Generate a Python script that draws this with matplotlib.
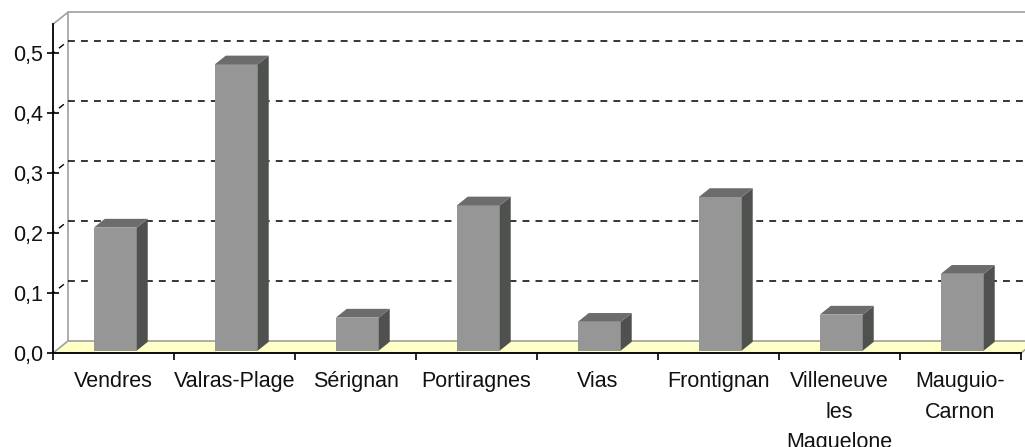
import matplotlib.pyplot as plt
from matplotlib.patches import Polygon

# data
communes = ['Vendres', 'Valras-Plage', 'Sérignan', 'Portiragnes', 'Vias',
            'Frontignan', 'Villeneuve\nles\nMaguelone', 'Mauguio-\nCarnon']
valeurs = [0.205, 0.477, 0.055, 0.242, 0.048, 0.256, 0.06, 0.128]
yticks = [0.0, 0.1, 0.2, 0.3, 0.4, 0.5]
ytick_labels = ['0,0', '0,1', '0,2', '0,3', '0,4', '0,5']

plt.rcParams['font.family'] = ['Liberation Sans', 'DejaVu Sans']
fig = plt.figure(figsize=(10.25, 4.47), dpi=100)
ax = fig.add_axes([53 / 1025, 94 / 447, 968 / 1025, 328.8 / 447])
n = len(communes)
top = 0.548
ax.set_xlim(0, n)
ax.set_ylim(0, top)

# depth of the fake 3d box, in data units
dx, dy = 0.124, 0.02
wall = '#a0a0a0'

# back wall + grid
ax.plot([dx, dx, n + dx], [dy, top + dy, top + dy], color=wall, lw=1.2, clip_on=False, zorder=1)
ax.plot([0, dx], [top, top + dy], color=wall, lw=1.2, clip_on=False, zorder=1)
for v in yticks[1:]:
    ax.plot([dx, n + dx], [v + dy, v + dy], color='black', lw=1.1,
            ls=(0, (4.5, 4)), clip_on=False, zorder=1)
    ax.plot([0, dx], [v, v + dy], color='black', lw=1.0,
            ls=(3, (4.5, 4)), clip_on=False, zorder=1)

# floor
floor = Polygon([(0, 0), (n, 0), (n + dx, dy), (dx, dy)], closed=True,
                facecolor='#ffffc8', edgecolor=wall, lw=1.2, clip_on=False, zorder=2)
ax.add_patch(floor)

# bars
w = 0.355
d0, d1 = 0.2, 0.93
ox, oy = (d1 - d0) * dx, (d1 - d0) * dy
for i, v in enumerate(valeurs):
    x0 = i + 0.49 - w / 2 + d0 * dx
    y0 = d0 * dy
    x1 = x0 + w
    front = Polygon([(x0, y0), (x1, y0), (x1, y0 + v), (x0, y0 + v)],
                    facecolor='#969696', edgecolor='none', clip_on=False, zorder=3)
    side = Polygon([(x1, y0), (x1 + ox, y0 + oy), (x1 + ox, y0 + v + oy), (x1, y0 + v)],
                   facecolor='#4f514f', edgecolor='none', clip_on=False, zorder=3)
    lid = Polygon([(x0, y0 + v), (x1, y0 + v), (x1 + ox, y0 + v + oy), (x0 + ox, y0 + v + oy)],
                  facecolor='#6c6c6c', edgecolor='none', clip_on=False, zorder=3)
    for p in (front, side, lid):
        ax.add_patch(p)

# axes
for s in ('top', 'right'):
    ax.spines[s].set_visible(False)
for s in ('left', 'bottom'):
    ax.spines[s].set_color('black')
    ax.spines[s].set_linewidth(1.3)
    ax.spines[s].set_zorder(5)

ax.set_yticks(yticks)
ax.set_yticklabels(ytick_labels)
ax.tick_params(axis='y', direction='inout', length=8, width=1.2, pad=3, labelsize=15.5,
               labelcolor='#111111')

ax.set_xticks(range(n + 1))
ax.set_xticklabels([])
ax.set_xticks([i + 0.5 for i in range(n)], minor=True)
ax.set_xticklabels(communes, minor=True, fontsize=15.5, linespacing=1.6, va='top',
                   color='#111111')
ax.tick_params(axis='x', which='major', direction='out', length=5, width=1.2)
ax.tick_params(axis='x', which='minor', length=0, pad=13)

ax.patch.set_visible(False)
fig.savefig('out.png', dpi=100)
